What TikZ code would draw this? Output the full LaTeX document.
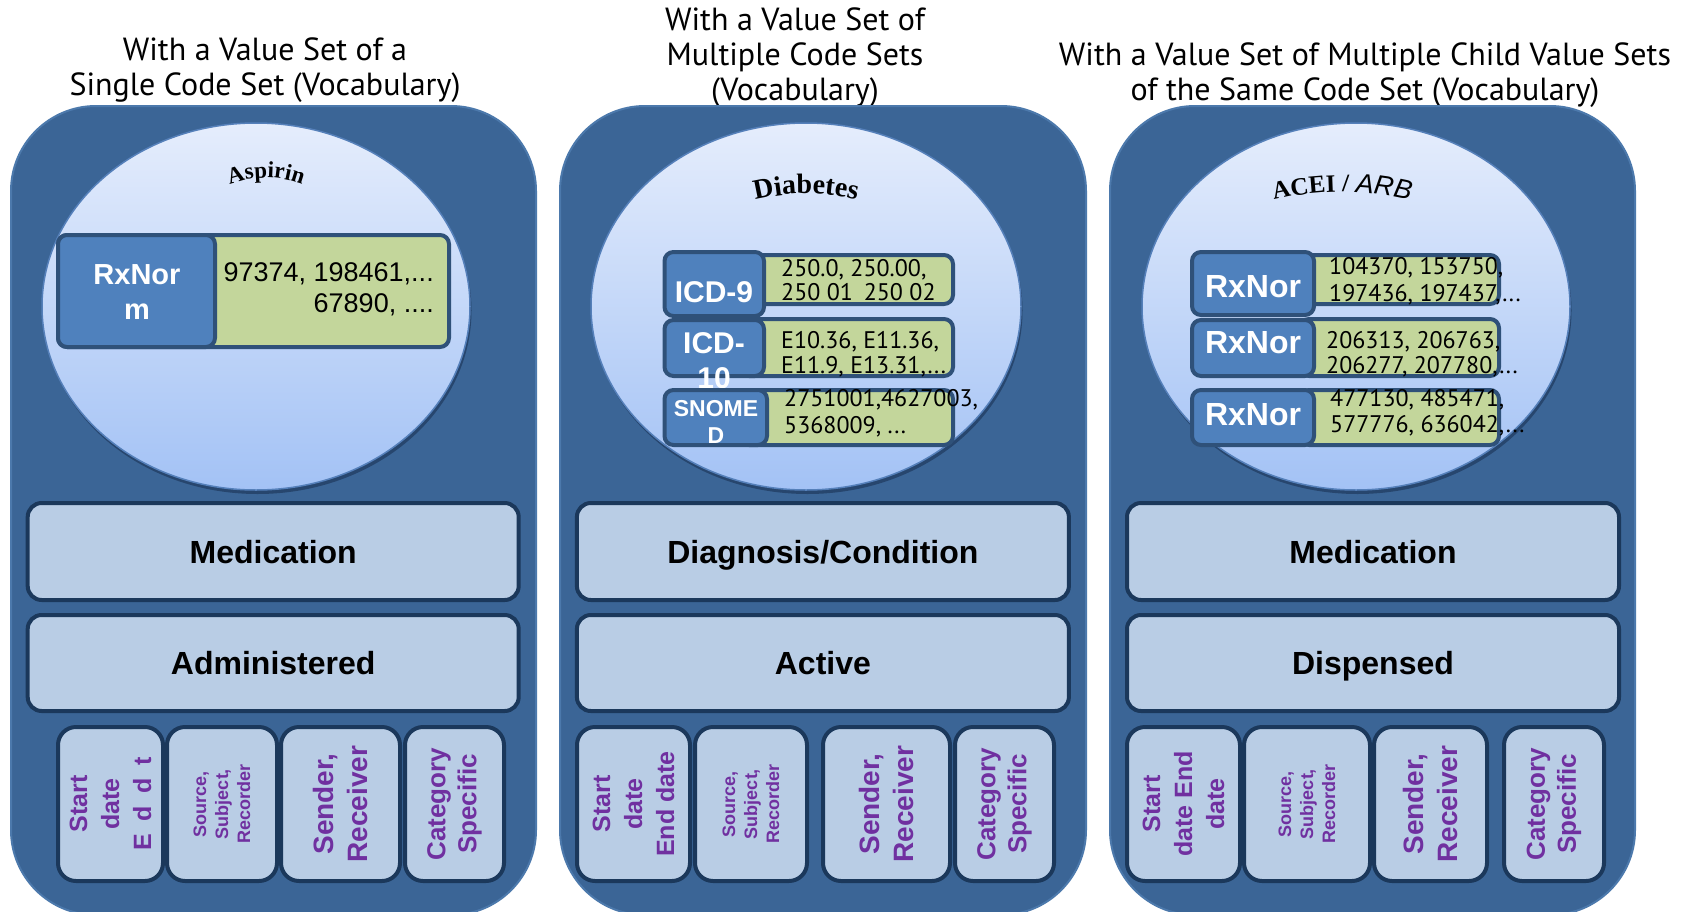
\documentclass[tikz,border=0pt]{standalone}
\usepackage{fontspec}
\setmainfont{Liberation Sans}
\newfontfamily\hdfont{PT Sans}
\newfontfamily\arfont{Liberation Sans}
\newfontfamily\romfont{Liberation Serif}
\usetikzlibrary{decorations.text}
\newcommand{\fsz}[2]{\fontsize{#1}{#2}\selectfont}

\definecolor{panelfill}{HTML}{3B6596}
\definecolor{paneledge}{HTML}{4C79AC}
\definecolor{ovaltop}{HTML}{E5EDFC}
\definecolor{ovalbot}{HTML}{A3C2F5}
\definecolor{ovaledge}{HTML}{5580BA}
\definecolor{ovalshadow}{HTML}{27466E}
\definecolor{codeblue}{HTML}{4F81BD}
\definecolor{codegreen}{HTML}{C3D69B}
\definecolor{codeedge}{HTML}{2F5179}
\definecolor{barfill}{HTML}{B9CDE5}
\definecolor{baredge}{HTML}{1B385B}
\definecolor{attrpurple}{HTML}{7030A0}

\begin{document}
\begin{tikzpicture}[x=1pt,y=-1pt,
  panel/.style={fill=panelfill,draw=paneledge,line width=2pt,rounded corners=85pt},
  oval/.style={draw=ovaledge,line width=1.5pt,top color=ovaltop,bottom color=ovalbot},
  ovalshade/.style={fill=ovalshadow},
  heading/.style={font=\hdfont\fsz{32}{35},align=center,inner sep=0pt},
  sysbox/.style={draw=codeedge,fill=codeblue,line width=4pt,rounded corners=9pt,inner sep=0pt},
  valbox/.style={draw=codeedge,fill=codegreen,line width=4pt,rounded corners=9pt,inner sep=0pt},
  systext/.style={text=white,align=center,inner sep=0pt},
  valtext/.style={text=black,align=left,inner sep=0pt,anchor=west},
  bar/.style={draw=baredge,fill=barfill,line width=4pt,rounded corners=14pt,inner sep=0pt,
    font=\arfont\bfseries\fsz{32}{32},text height=23pt,text depth=0pt},
  attr/.style={draw=baredge,fill=barfill,line width=4pt,rounded corners=18pt,inner sep=0pt,
    rotate=90,text=attrpurple,align=center,minimum width=154pt}
]
\useasboundingbox (0,0) rectangle (1682,911);
\fill[white] (0,0) rectangle (1682,911);

% ---------- headings ----------
\node[heading] (h1) at (265,70) {With a Value Set of a\\Single Code Set (Vocabulary)};
\node[heading] (h2) at (795,58) {With a Value Set of\\Multiple Code Sets\\(Vocabulary)};
\node[heading] (h3) at (1365,75) {With a Value Set of Multiple Child Value Sets\\of the Same Code Set (Vocabulary)};

% ---------- panel backgrounds ----------
\draw[panel] (11,106) rectangle (536,915);
\draw[panel] (560,106) rectangle (1086,915);
\draw[panel] (1110,106) rectangle (1635,915);

% ---------- value set ovals ----------
\fill[ovalshade] (257.5,310.5) ellipse [x radius=214pt, y radius=183.5pt];
\draw[oval] (256,306.5) ellipse [x radius=214pt, y radius=183.5pt];
\fill[ovalshade] (807.5,310.5) ellipse [x radius=215pt, y radius=183.5pt];
\draw[oval] (806,306.5) ellipse [x radius=215pt, y radius=183.5pt];
\fill[ovalshade] (1357.5,310.5) ellipse [x radius=214pt, y radius=183.5pt];
\draw[oval] (1356,306.5) ellipse [x radius=214pt, y radius=183.5pt];

% ---------- arched value set names ----------
\path[decorate,decoration={text along path,text align=center,
  text={|\romfont\bfseries\fsz{23}{23}|Aspirin}}]
  (226,186) .. controls (252,175) and (280,175) .. (306,186);
\path[decorate,decoration={text along path,text align=center,
  text={|\romfont\bfseries\fsz{28}{28}|Diabetes}}]
  (748,202) .. controls (786,191) and (826,191) .. (864,202);
\path[decorate,decoration={text along path,text align=center,
  text={|\romfont\bfseries\fsz{25}{25}|ACEI / |\arfont\itshape\fsz{27}{27}|ARB}}]
  (1270,201) .. controls (1318,189) and (1366,189) .. (1414,201);

% ---------- panel 1: single code set ----------
\node[valbox,minimum width=391pt,minimum height=112pt] (v1) at (253.5,291) {};
\node[sysbox,minimum width=157pt,minimum height=112pt] (s1) at (136.5,291) {};
\node[systext,font=\arfont\bfseries\fsz{29}{35}] (s1t) at (137,292) {RxNor\\m};
\node[anchor=east,align=right,inner sep=0pt,font=\arfont\fsz{27}{31}] (v1t) at (434,289)
  {97374, 198461,...\\67890, ....};

% ---------- panel 2: several code sets ----------
\node[valbox,minimum width=213pt,minimum height=49pt] (v21) at (846.5,279.5) {};
\node[sysbox,minimum width=99.5pt,minimum height=64pt] (s21) at (714.25,284) {};
\node[systext,font=\arfont\bfseries\fsz{30}{30}] (s21t) at (714,292) {ICD-9};
\node[valtext,font=\hdfont\fsz{24}{24}] (v21t) at (781,280) {250.0, 250.00,\\250 01\hspace{0.45em}250 02};

\node[valbox,minimum width=213pt,minimum height=57pt] (v22) at (846.5,347.5) {};
\node[sysbox,minimum width=99.5pt,minimum height=56pt] (s22) at (714.25,348) {};
\node[systext,font=\arfont\bfseries\fsz{30}{35}] (s22t) at (714,360.5) {ICD-\\10};
\node[valtext,font=\hdfont\fsz{24}{25}] (v22t) at (781,354.5) {E10.36, E11.36,\\E11.9, E13.31,...};

\node[valbox,minimum width=213pt,minimum height=55pt] (v23) at (846.5,417.5) {};
\node[sysbox,minimum width=102.5pt,minimum height=55pt] (s23) at (715.75,417.5) {};
\node[systext,font=\arfont\bfseries\fsz{23}{27}] (s23t) at (716,421.5) {SNOME\\D};
\node[valtext,font=\hdfont\fsz{24}{27}] (v23t) at (784,413.5) {2751001,4627003,\\5368009, ...};

% ---------- panel 3: child value sets ----------
\node[valbox,minimum width=199pt,minimum height=49pt] (v31) at (1399.5,279.5) {};
\node[sysbox,minimum width=122pt,minimum height=63pt] (s31) at (1253,283.5) {};
\node[systext,font=\arfont\bfseries\fsz{32}{32}] (s31t) at (1253,287) {RxNor};
\node[valtext,font=\hdfont\fsz{24}{27}] (v31t) at (1329,281.5) {104370, 153750,\\197436, 197437,...};

\node[valbox,minimum width=199pt,minimum height=57pt] (v32) at (1399.5,347.5) {};
\node[sysbox,minimum width=122pt,minimum height=56pt] (s32) at (1253,348) {};
\node[systext,font=\arfont\bfseries\fsz{32}{32}] (s32t) at (1253,343) {RxNor};
\node[valtext,font=\hdfont\fsz{24}{25}] (v32t) at (1326,354.5) {206313, 206763,\\206277, 207780,...};

\node[valbox,minimum width=199pt,minimum height=55pt] (v33) at (1399.5,417.5) {};
\node[sysbox,minimum width=122pt,minimum height=55pt] (s33) at (1253,417.5) {};
\node[systext,font=\arfont\bfseries\fsz{32}{32}] (s33t) at (1253,415) {RxNor};
\node[valtext,font=\hdfont\fsz{24}{26}] (v33t) at (1330,413) {477130, 485471,\\577776, 636042,...};

% ---------- category and status bars ----------
\node[bar,minimum width=491pt,minimum height=97pt] (c1) at (273.2,551.5) {Medication};
\node[bar,minimum width=491pt,minimum height=96pt] (st1) at (273.2,663) {Administered};
\node[bar,minimum width=492pt,minimum height=97pt] (c2) at (822.9,551.5) {Diagnosis/Condition};
\node[bar,minimum width=492pt,minimum height=96pt] (st2) at (822.9,663) {Active};
\node[bar,minimum width=492pt,minimum height=97pt] (c3) at (1373,551.5) {Medication};
\node[bar,minimum width=492pt,minimum height=96pt] (st3) at (1373,663) {Dispensed};

% ---------- attribute boxes ----------
\node[attr,minimum height=105pt,font=\arfont\bfseries\fsz{25}{32}] (a11) at (110.5,804)
  {Start\\date\\E\hspace{0.5em}d\hspace{0.5em}d\hspace{0.5em}t};
\node[attr,minimum height=110pt,font=\arfont\bfseries\fsz{18}{22}] (a12) at (222,804)
  {Source,\\Subject,\\Recorder};
\node[attr,minimum height=119pt,font=\arfont\bfseries\fsz{28}{34}] (a13) at (340.5,804)
  {Sender,\\Receiver};
\node[attr,minimum height=99pt,font=\arfont\bfseries\fsz{26}{31}] (a14) at (454.5,804)
  {Category\\Specific};

\node[attr,minimum height=113pt,font=\arfont\bfseries\fsz{25}{32}] (a21) at (633.5,804)
  {Start\\date\\End date};
\node[attr,minimum height=112pt,font=\arfont\bfseries\fsz{18}{22}] (a22) at (751,804)
  {Source,\\Subject,\\Recorder};
\node[attr,minimum height=127pt,font=\arfont\bfseries\fsz{28}{34}] (a23) at (886.5,804)
  {Sender,\\Receiver};
\node[attr,minimum height=99pt,font=\arfont\bfseries\fsz{26}{31}] (a24) at (1004.5,804)
  {Category\\Specific};

\node[attr,minimum height=113pt,font=\arfont\bfseries\fsz{25}{32}] (a31) at (1183.5,804)
  {Start\\date End\\date};
\node[attr,minimum height=126pt,font=\arfont\bfseries\fsz{18}{22}] (a32) at (1307,804)
  {Source,\\Subject,\\Recorder};
\node[attr,minimum height=113pt,font=\arfont\bfseries\fsz{28}{34}] (a33) at (1430.5,804)
  {Sender,\\Receiver};
\node[attr,minimum height=100pt,font=\arfont\bfseries\fsz{26}{31}] (a34) at (1554,804)
  {Category\\Specific};
\end{tikzpicture}
\end{document}
